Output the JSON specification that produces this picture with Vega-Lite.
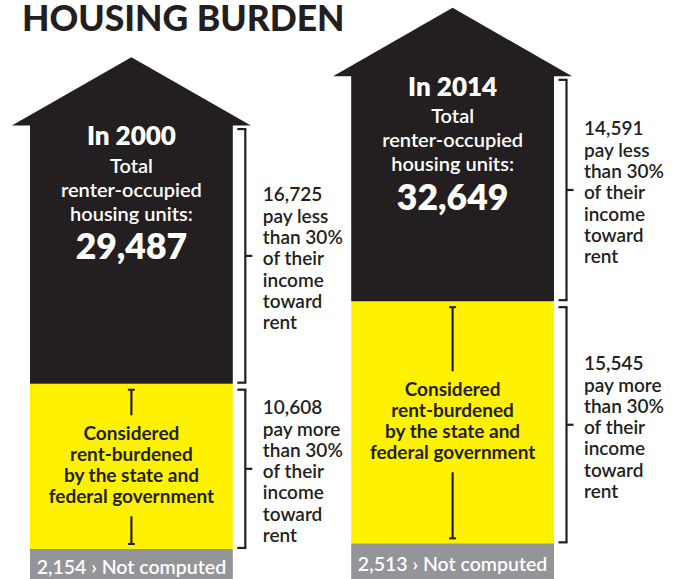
{
  "$schema": "https://vega.github.io/schema/vega-lite/v6.json",
  "width": 676,
  "height": 579,
  "autosize": {"type": "none"},
  "padding": 0,
  "background": "white",
  "config": {"view": {"stroke": null}, "font": "Lato"},
  "title": {"text": "HOUSING BURDEN", "anchor": "start", "frame": "group", "fontSize": 35.5, "font": "Lato", "fontWeight": 900, "color": "#231f20", "offset": -66.5, "baseline": "alphabetic", "dx": 22},
  "datasets": {
    "segments": [
      {"year": "2000", "segment": "Not computed", "units": 2154, "order": 1, "note": "2,154 › Not computed"},
      {"year": "2000", "segment": "Pay more than 30%", "units": 10608, "order": 2, "note": "10,608\npay more\nthan 30%\nof their\nincome\ntoward\nrent"},
      {"year": "2000", "segment": "Pay less than 30%", "units": 16725, "order": 3, "note": "16,725\npay less\nthan 30%\nof their\nincome\ntoward\nrent"},
      {"year": "2014", "segment": "Not computed", "units": 2513, "order": 1, "note": "2,513 › Not computed"},
      {"year": "2014", "segment": "Pay more than 30%", "units": 15545, "order": 2, "note": "15,545\npay more\nthan 30%\nof their\nincome\ntoward\nrent"},
      {"year": "2014", "segment": "Pay less than 30%", "units": 14591, "order": 3, "note": "14,591\npay less\nthan 30%\nof their\nincome\ntoward\nrent"}
    ],
    "years": [
      {"year": "2000", "label": "In 2000", "total": 29487},
      {"year": "2014", "label": "In 2014", "total": 32649}
    ]
  },
  "layer": [
    {
      "data": {"name": "segments"},
      "transform": [
        {"stack": "units", "groupby": ["year"], "sort": [{"field": "order", "order": "ascending"}], "as": ["y0", "y1"]},
        {"fold": ["y0", "y1"], "as": ["k", "v"]},
        {"aggregate": [{"op": "mean", "field": "v", "as": "mid"}, {"op": "min", "field": "v", "as": "lo"}, {"op": "max", "field": "v", "as": "hi"}], "groupby": ["year", "segment", "note"]}
      ],
      "layer": [
        {
          "mark": {"type": "bar", "strokeWidth": 0},
          "encoding": {
            "x": {"field": "year", "type": "nominal", "axis": null, "scale": {"type": "band", "range": [30, 554], "paddingInner": 0.3686, "paddingOuter": 0}},
            "y": {"field": "hi", "type": "quantitative", "axis": null, "scale": {"domain": [225, 37388], "zero": false, "nice": false, "clamp": true}},
            "y2": {"field": "lo"},
            "color": {"field": "segment", "type": "nominal", "legend": null, "scale": {"domain": ["Not computed", "Pay more than 30%", "Pay less than 30%"], "range": ["#939598", "#fff200", "#231f20"]}}
          }
        },
        {
          "transform": [{"filter": "datum.segment !== 'Not computed'"}],
          "layer": [
            {
              "mark": {"type": "rule", "color": "#231f20", "strokeWidth": 2.2, "xOffset": 12.5, "yOffset": 6, "y2Offset": -1},
              "encoding": {
                "x": {"field": "year", "type": "nominal", "bandPosition": 1},
                "y": {"field": "hi", "type": "quantitative"},
                "y2": {"field": "lo"}
              }
            },
            {
              "mark": {"type": "tick", "color": "#231f20", "opacity": 1, "thickness": 2.2, "size": 9, "xOffset": 110.4, "yOffset": 6},
              "encoding": {
                "x": {"field": "year", "type": "nominal"},
                "y": {"field": "hi", "type": "quantitative"}
              }
            },
            {
              "mark": {"type": "tick", "color": "#231f20", "opacity": 1, "thickness": 2.2, "size": 9, "xOffset": 110.4, "yOffset": -1},
              "encoding": {
                "x": {"field": "year", "type": "nominal"},
                "y": {"field": "lo", "type": "quantitative"}
              }
            },
            {
              "mark": {"type": "tick", "color": "#231f20", "opacity": 1, "thickness": 2.2, "size": 7, "xOffset": 117.4, "yOffset": 2.5},
              "encoding": {
                "x": {"field": "year", "type": "nominal"},
                "y": {"field": "mid", "type": "quantitative"}
              }
            },
            {
              "mark": {"type": "text", "align": "left", "baseline": "middle", "dx": 30, "dy": -58, "fontSize": 19, "fontWeight": 600, "lineHeight": 21.3, "lineBreak": "\n", "color": "#231f20"},
              "encoding": {
                "x": {"field": "year", "type": "nominal", "bandPosition": 1},
                "y": {"field": "mid", "type": "quantitative"},
                "text": {"field": "note"}
              }
            }
          ]
        },
        {
          "transform": [{"filter": "datum.segment === 'Pay more than 30%'"}],
          "layer": [
            {
              "mark": {"type": "text", "align": "center", "baseline": "middle", "dy": -32, "fontSize": 19, "fontWeight": 700, "lineHeight": 21, "color": "#231f20", "text": ["Considered", "rent-burdened", "by the state and", "federal government"]},
              "encoding": {
                "x": {"field": "year", "type": "nominal"},
                "y": {"field": "mid", "type": "quantitative"}
              }
            },
            {
              "mark": {"type": "rule", "color": "#231f20", "strokeWidth": 2.2, "yOffset": 6, "y2Offset": -51},
              "encoding": {
                "x": {"field": "year", "type": "nominal"},
                "y": {"field": "hi", "type": "quantitative"},
                "y2": {"field": "mid"}
              }
            },
            {
              "mark": {"type": "rule", "color": "#231f20", "strokeWidth": 2.2, "yOffset": 50, "y2Offset": -5},
              "encoding": {
                "x": {"field": "year", "type": "nominal"},
                "y": {"field": "mid", "type": "quantitative"},
                "y2": {"field": "lo"}
              }
            },
            {
              "mark": {"type": "tick", "color": "#231f20", "opacity": 1, "thickness": 2, "size": 7, "yOffset": 6},
              "encoding": {
                "x": {"field": "year", "type": "nominal"},
                "y": {"field": "hi", "type": "quantitative"}
              }
            },
            {
              "mark": {"type": "tick", "color": "#231f20", "opacity": 1, "thickness": 2, "size": 7, "yOffset": -5},
              "encoding": {
                "x": {"field": "year", "type": "nominal"},
                "y": {"field": "lo", "type": "quantitative"}
              }
            }
          ]
        },
        {
          "transform": [{"filter": "datum.segment === 'Not computed'"}],
          "mark": {"type": "text", "align": "center", "baseline": "middle", "dy": 2, "fontSize": 19.5, "fontWeight": 600, "color": "white"},
          "encoding": {
            "x": {"field": "year", "type": "nominal"},
            "y": {"field": "mid", "type": "quantitative"},
            "text": {"field": "note"}
          }
        }
      ]
    },
    {
      "data": {"name": "years"},
      "layer": [
        {
          "mark": {"type": "point", "shape": "M-1,0.02L0,-0.552L1,0.02Z", "size": 57121, "filled": true, "color": "#231f20", "opacity": 1, "strokeWidth": 0},
          "encoding": {
            "x": {"field": "year", "type": "nominal"},
            "y": {"field": "total", "type": "quantitative"}
          }
        },
        {
          "mark": {"type": "text", "align": "center", "baseline": "middle", "dy": 14, "fontSize": 26, "fontWeight": 800, "color": "white"},
          "encoding": {
            "x": {"field": "year", "type": "nominal"},
            "y": {"field": "total", "type": "quantitative"},
            "text": {"field": "label"}
          }
        },
        {
          "mark": {"type": "text", "align": "center", "baseline": "middle", "dy": 43.5, "fontSize": 20, "fontWeight": 600, "lineHeight": 24, "color": "white", "text": ["Total", "renter-occupied", "housing units:"]},
          "encoding": {
            "x": {"field": "year", "type": "nominal"},
            "y": {"field": "total", "type": "quantitative"}
          }
        },
        {
          "mark": {"type": "text", "align": "center", "baseline": "middle", "dy": 125, "fontSize": 35.5, "fontWeight": 800, "color": "white"},
          "encoding": {
            "x": {"field": "year", "type": "nominal"},
            "y": {"field": "total", "type": "quantitative"},
            "text": {"field": "total", "format": ","}
          }
        }
      ]
    }
  ]
}
